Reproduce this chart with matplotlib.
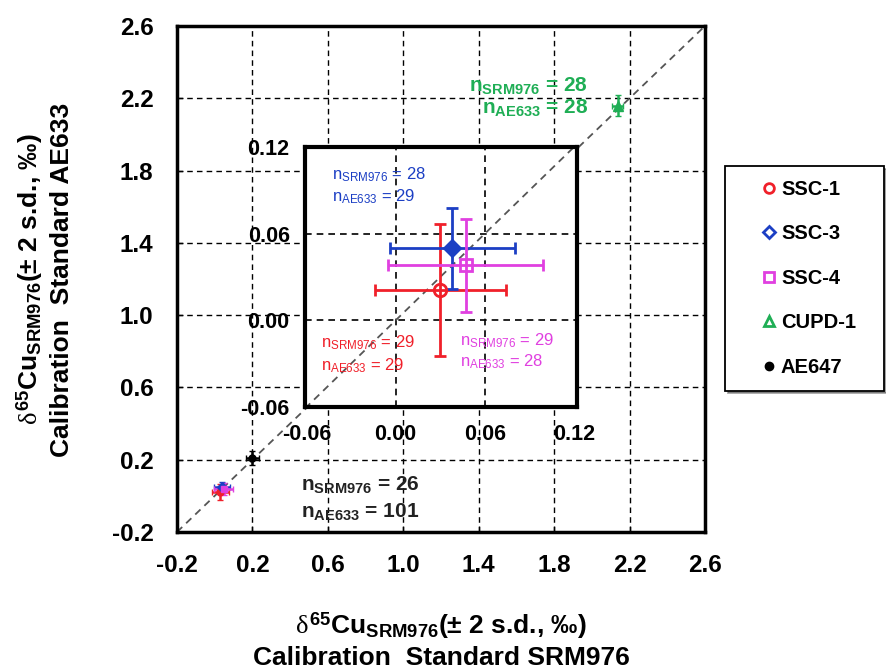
import matplotlib
matplotlib.use("Agg")
import matplotlib.pyplot as plt
from matplotlib.lines import Line2D

plt.rcParams['font.family'] = ['Liberation Sans', 'DejaVu Sans']
plt.rcParams['mathtext.fontset'] = 'custom'
plt.rcParams['mathtext.rm'] = 'Liberation Sans'
plt.rcParams['mathtext.bf'] = 'Liberation Sans:bold'
plt.rcParams['mathtext.it'] = 'Liberation Serif'

# ---- data ----
samples = ['SSC-1', 'SSC-3', 'SSC-4', 'CUPD-1', 'AE647']
colors = ['#f0202a', '#1c3fc4', '#e040e0', '#1fae55', '#000000']
markers = ['o', 'D', 's', '^', 'o']
x_srm976 = [0.030, 0.038, 0.047, 2.136, 0.200]
x_err = [0.044, 0.042, 0.052, 0.030, 0.035]
y_ae633 = [0.021, 0.050, 0.038, 2.160, 0.210]
y_err = [0.046, 0.028, 0.032, 0.060, 0.040]
n_srm976 = [29, 28, 29, 28, 26]
n_ae633 = [29, 29, 28, 28, 101]

main_ticks = [-0.2, 0.2, 0.6, 1.0, 1.4, 1.8, 2.2, 2.6]
inset_ticks = [-0.06, 0.00, 0.06, 0.12]

W, H = 886, 671
fig = plt.figure(figsize=(W / 100, H / 100), dpi=100)

ax = fig.add_axes([177 / W, 1 - 532 / H, (705 - 177) / W, (532 - 26) / H])
ax.set_xlim(-0.2, 2.6)
ax.set_ylim(-0.2, 2.6)
ax.set_xticks(main_ticks)
ax.set_yticks(main_ticks)
ax.set_xticklabels([f'{t:.1f}' for t in main_ticks], fontsize=17.5, fontweight='bold')
ax.set_yticklabels([f'{t:.1f}' for t in main_ticks], fontsize=17.5, fontweight='bold')
ax.tick_params(direction='in', length=4, width=1)
ax.tick_params(axis='y', pad=17)
ax.tick_params(axis='x', pad=16)
for s in ax.spines.values():
    s.set_linewidth(2.5)
for t in main_ticks[1:-1]:
    ax.axvline(t, color='black', ls=(0, (4, 3)), lw=1, zorder=1)
    ax.axhline(t, color='black', ls=(0, (4, 3)), lw=1, zorder=1)
ax.plot([-0.2, 2.6], [-0.2, 2.6], color='#555555', ls=(0, (4, 3)), lw=1.3, zorder=1)

for i in range(len(samples)):
    ax.errorbar(x_srm976[i], y_ae633[i], xerr=x_err[i], yerr=y_err[i],
                fmt=markers[i], color=colors[i], mfc=colors[i],
                ms=7 if i == 3 else 5,
                capsize=2, elinewidth=1.8, zorder=3)

ax.text(1.98, 2.272, r'$\mathbf{n}_{\mathbf{SRM976}}$' + ' = %d' % n_srm976[3],
        color=colors[3], fontsize=15, fontweight='bold', ha='right', va='center')
ax.text(1.98, 2.15, r'$\mathbf{n}_{\mathbf{AE633}}$' + ' = %d' % n_ae633[3],
        color=colors[3], fontsize=15, fontweight='bold', ha='right', va='center')
ax.text(0.456, 0.062, r'$\mathbf{n}_{\mathbf{SRM976}}$' + ' = %d' % n_srm976[4],
        color='#222222', fontsize=15, fontweight='bold', ha='left', va='center')
ax.text(0.456, -0.087, r'$\mathbf{n}_{\mathbf{AE633}}$' + ' = %d' % n_ae633[4],
        color='#222222', fontsize=15, fontweight='bold', ha='left', va='center')

# ---- inset ----
ins = fig.add_axes([305 / W, 1 - 407 / H, (577 - 305) / W, (407 - 147) / H])
ins.set_xlim(-0.061, 0.122)
ins.set_ylim(-0.06, 0.12)
ins.set_xticks(inset_ticks)
ins.set_yticks(inset_ticks)
ins.set_xticklabels([f'{t:.2f}' for t in inset_ticks], fontsize=15.5, fontweight='bold')
ins.set_yticklabels([f'{t:.2f}' for t in inset_ticks], fontsize=15.5, fontweight='bold')
ins.tick_params(length=0)
ins.tick_params(axis='x', pad=12)
ins.tick_params(axis='y', pad=11)
for s in ins.spines.values():
    s.set_linewidth(3)
for t in inset_ticks[1:3]:
    ins.axvline(t, color='black', ls=(0, (4, 3)), lw=1.2, zorder=1)
    ins.axhline(t, color='black', ls=(0, (4, 3)), lw=1.2, zorder=1)
ins.plot([-0.061, 0.122], [-0.061, 0.122], color='#555555', ls=(0, (4, 3)), lw=1.3, zorder=1)

for i in range(3):
    filled = (i == 1)
    ins.errorbar(x_srm976[i], y_ae633[i], xerr=x_err[i], yerr=y_err[i],
                 fmt=markers[i], color=colors[i],
                 mfc=colors[i] if filled else 'none', mec=colors[i], mew=2,
                 ms=9 if i != 1 else 8, capsize=4, elinewidth=2, capthick=2, zorder=3)

inset_text_pos = [(-0.050, -0.0153, -0.0314), (-0.0425, 0.101, 0.0858), (0.043, -0.014, -0.0286)]
for i, (tx, ty1, ty2) in enumerate(inset_text_pos):
    ins.text(tx, ty1, r'$\mathrm{n}_{\mathrm{SRM976}}$' + ' = %d' % n_srm976[i],
             color=colors[i], fontsize=12, ha='left', va='center')
    ins.text(tx, ty2, r'$\mathrm{n}_{\mathrm{AE633}}$' + ' = %d' % n_ae633[i],
             color=colors[i], fontsize=12, ha='left', va='center')

# ---- axis labels ----
lab1 = r'$\delta^{\mathbf{65}}\mathbf{Cu}_{\mathbf{SRM976}}$' + '(± 2 s.d., ‰)'
fig.text(441 / W, 1 - 626 / H, lab1, fontsize=19, fontweight='bold', ha='center', va='center')
fig.text(441 / W, 1 - 665 / H, 'Calibration  Standard SRM976', fontsize=19,
         fontweight='bold', ha='center', va='baseline')
fig.text(30 / W, 1 - 279 / H, lab1, fontsize=19, fontweight='bold', ha='center', va='center',
         rotation=90)
fig.text(62 / W, 1 - 280 / H, 'Calibration  Standard AE633', fontsize=19,
         fontweight='bold', ha='center', va='center', rotation=90)

# ---- legend ----
handles = []
for i in range(5):
    if i == 4:
        h = Line2D([], [], marker='o', color='black', ls='none', ms=6)
    else:
        h = Line2D([], [], marker=markers[i], color=colors[i], mfc='none', mew=2,
                   ls='none', ms=7 if i != 1 else 6)
    handles.append(h)
leg = fig.legend(handles, samples, loc='upper left',
                 bbox_to_anchor=(725 / W, 1 - 395 / H, 159 / W, (395 - 166) / H),
                 mode='expand',
                 prop={'weight': 'bold', 'size': 14.5}, labelspacing=1.27, handlelength=3.0,
                 handletextpad=-0.9, borderpad=0.68, borderaxespad=0, fancybox=False,
                 shadow=True, framealpha=1, edgecolor='black')
leg.get_frame().set_linewidth(1.3)

fig.savefig('out.png', dpi=100)
